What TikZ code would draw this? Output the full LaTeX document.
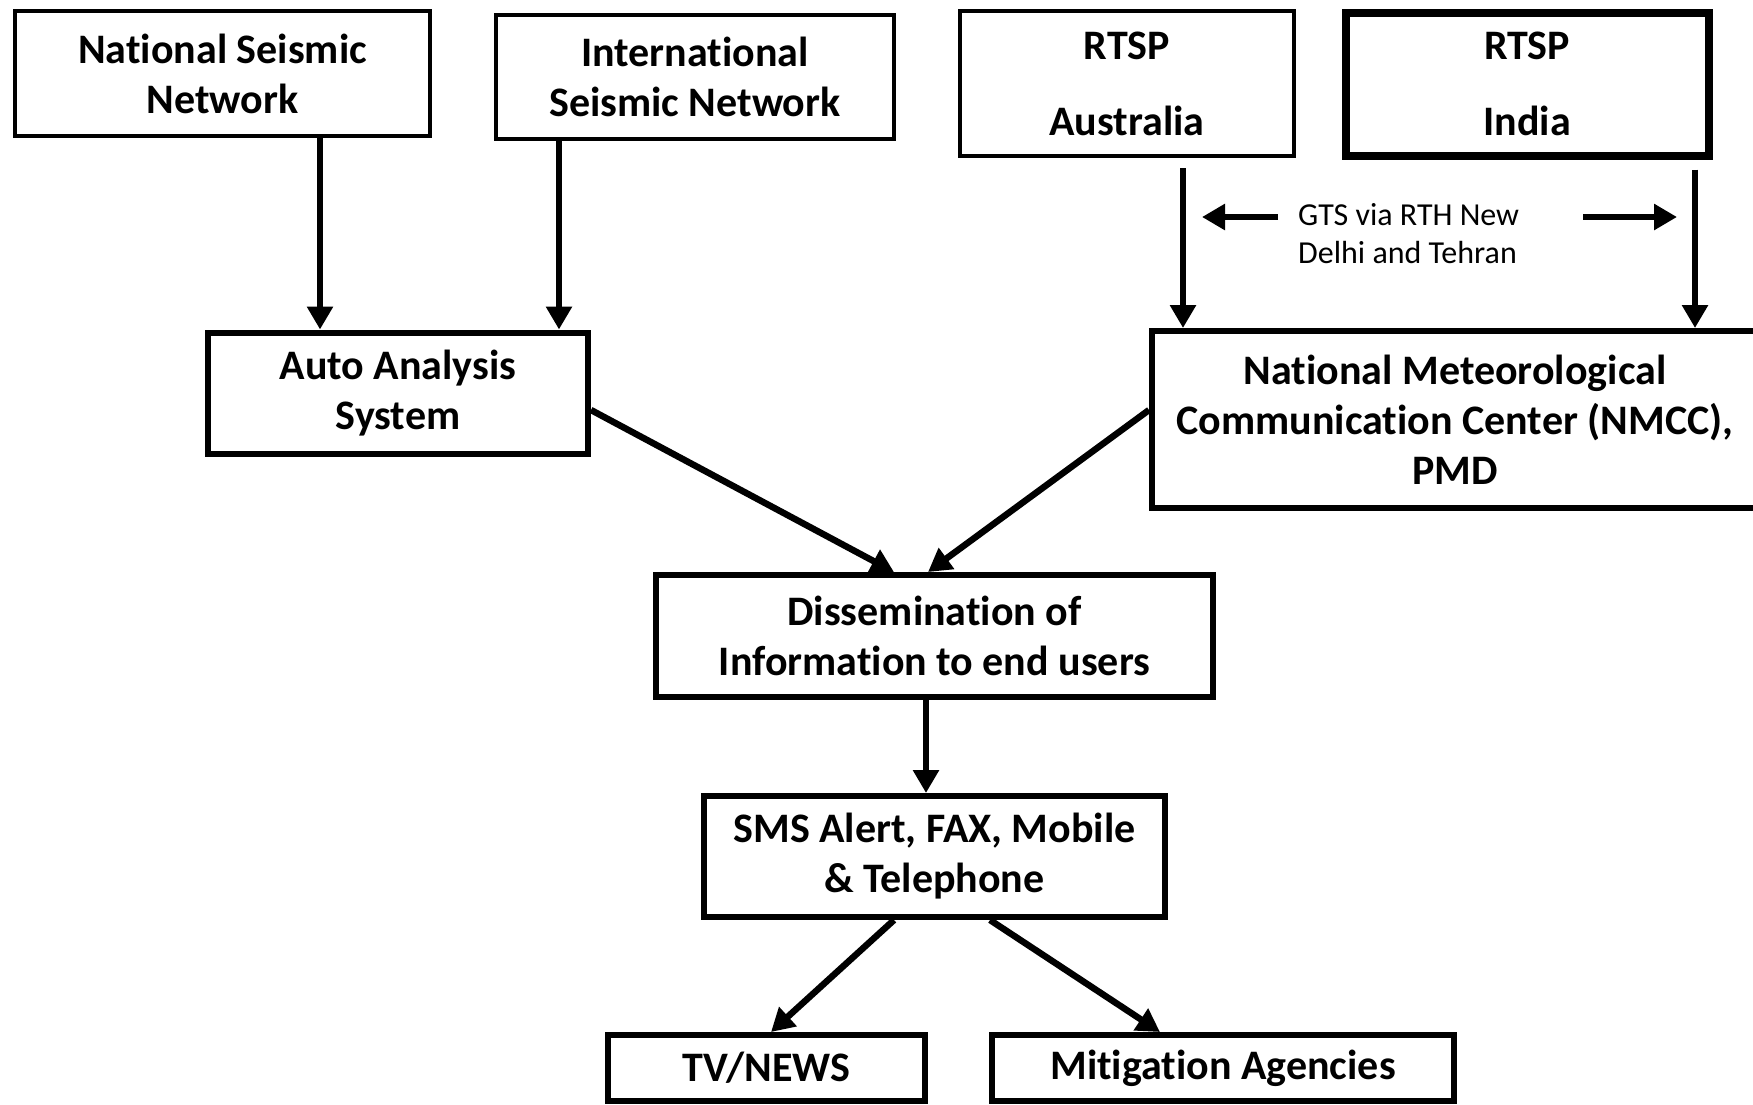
\documentclass[tikz,border=0pt]{standalone}
\usepackage{fontspec}
\setmainfont{Carlito}[RawFeature={-liga;-clig}]
\usetikzlibrary{arrows.meta,calc}
\begin{document}
\begin{tikzpicture}[x=1pt,y=-1pt,
  box/.style={draw=black, line width=4.5pt, rectangle, inner sep=0pt, align=center,
    font=\bfseries\fontsize{42}{50}\selectfont},
  thickbox/.style={box, line width=6pt},
  arr/.style={line width=6.5pt, -{Triangle[length=23pt,width=25pt]}},
]
\useasboundingbox (0,0) rectangle (1753,1104);
\fill[white] (0,0) rectangle (1753,1104);
\clip (0,0) rectangle (1753,1104);

\node[box, minimum width=415pt, minimum height=125pt] (nsn) at (222.5,73.5) {National Seismic\\Network};
\node[box, minimum width=398pt, minimum height=124pt] (isn) at (695,77) {International\\Seismic Network};
\node[box, minimum width=334pt, minimum height=145pt] (aus) at (1127,83.5) {RTSP\\[26pt]Australia};
\node[box, line width=8pt, minimum width=363pt, minimum height=143pt] (ind) at (1527,84) {RTSP\\[26pt]India};
\node[thickbox, minimum width=380pt, minimum height=121pt] (auto) at (398,393) {Auto Analysis\\System};
\node[thickbox, minimum width=606pt, minimum height=177pt] (nmcc) at (1455,419.5) {National Meteorological\\Communication Center (NMCC),\\PMD};
\node[thickbox, minimum width=557pt, minimum height=122pt] (diss) at (934.5,636) {Dissemination of\\Information to end users};
\node[thickbox, minimum width=461pt, minimum height=121pt] (sms) at (934.5,856.5) {SMS Alert, FAX, Mobile\\\& Telephone};
\node[thickbox, minimum width=317pt, minimum height=66pt] (tv) at (766.5,1068) {TV/NEWS};
\node[thickbox, minimum width=462pt, minimum height=66pt] (mit) at (1223,1068) {Mitigation Agencies};

\node[font=\fontsize{32}{38}\selectfont, align=left, inner sep=0pt, anchor=west] (gts) at (1298,234) {GTS via RTH New\\Delhi and Tehran};
\coordinate (gl0) at (1278,217);
\coordinate (gl1) at (1202,217);
\coordinate (gr0) at (1583,217);
\coordinate (gr1) at (1677,217);

\draw[arr] (nsn.south -| 320,0) -- (auto.north -| 320,0);
\draw[arr] (isn.south -| 559,0) -- (auto.north -| 559,0);
\draw[arr, shorten <=10pt] (aus.south -| 1183,0) -- (nmcc.north -| 1183,0);
\draw[arr, shorten <=10pt] (ind.south -| 1695,0) -- (nmcc.north -| 1695,0);
\draw[arr] (auto.east |- 0,410) -- (diss.north -| 894,0);
\draw[arr] (nmcc.west |- 0,410) -- (diss.north -| 928,0);
\draw[arr] (diss.south -| 926,0) -- (sms.north -| 926,0);
\draw[arr] (sms.south -| 894,0) -- (tv.north -| 771,0);
\draw[arr] (sms.south -| 990,0) -- (mit.north -| 1160,0);
\draw[arr, line width=6pt] (gl0) -- (gl1);
\draw[arr, line width=6pt] (gr0) -- (gr1);
\end{tikzpicture}
\end{document}
